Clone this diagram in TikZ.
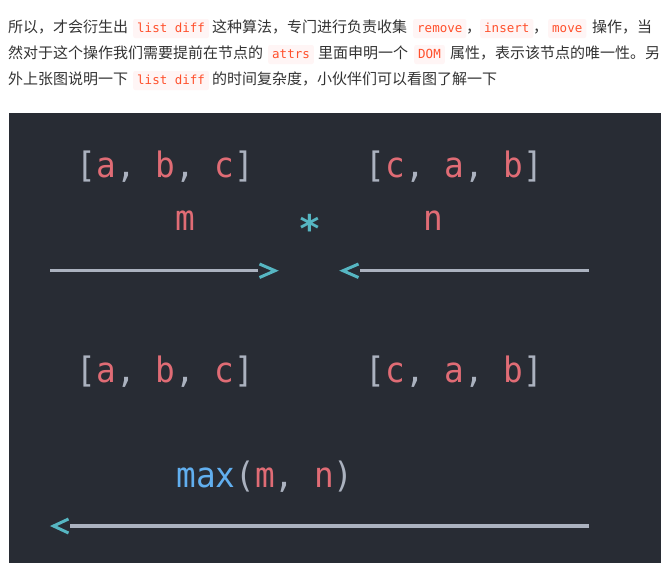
\documentclass[tikz,border=0pt]{standalone}
\usepackage{fontspec}
\setmainfont{Noto Sans CJK SC}
\newfontfamily\codefont{DejaVu Sans Mono}
\newfontfamily\panelfont[FakeStretch=0.935]{DejaVu Sans Mono}
\definecolor{txtgray}{HTML}{333333}
\definecolor{codefg}{HTML}{FF502C}
\definecolor{codebg}{HTML}{FFF5F5}
\definecolor{panel}{HTML}{282C34}
\definecolor{pgray}{HTML}{ABB2BF}
\definecolor{pred}{HTML}{E06C75}
\definecolor{pcyan}{HTML}{56B6C2}
\definecolor{pblue}{HTML}{61AFEF}
\newcommand{\G}[1]{\textcolor{pgray}{#1}}
\newcommand{\R}[1]{\textcolor{pred}{#1}}
\tikzset{
  cn/.style={anchor=base west, inner sep=0pt, text=txtgray, font=\fontsize{15}{15}\selectfont},
  codespan/.style={anchor=base west, fill=codebg, text=codefg, font=\codefont\fontsize{12.5}{12.5}\selectfont, inner xsep=4pt, inner ysep=3pt, text height=10pt, text depth=3pt, rounded corners=2pt},
  big/.style={anchor=base, inner sep=0pt, font=\panelfont\fontsize{35}{35}\selectfont},
  rule/.style={draw=pgray, line width=3.4pt},
  chev/.style={draw=pcyan, line width=3pt},
}
\begin{document}
\begin{tikzpicture}[x=1pt,y=-1pt]
\useasboundingbox (0,0) rectangle (672,582);
\fill[white] (0,0) rectangle (672,582);
% paragraph
\node[cn] (l1a) at (8,32) {所以，才会衍生出};
\node[codespan] (l1b) at (133,32) {list diff};
\node[cn] (l1c) at (212,32) {这种算法，专门进行负责收集};
\node[codespan] (l1d) at (413,32) {remove};
\node[cn] (l1e) at (466,32) {，};
\node[codespan] (l1f) at (480,32) {insert};
\node[cn] (l1g) at (533,32) {，};
\node[codespan] (l1h) at (548,32) {move};
\node[cn] (l1i) at (592,32) {操作，当};
\node[cn] (l2a) at (8,58) {然对于这个操作我们需要提前在节点的};
\node[codespan] (l2b) at (268,58) {attrs};
\node[cn] (l2c) at (318,58) {里面申明一个};
\node[codespan] (l2d) at (414,58) {DOM};
\node[cn] (l2e) at (450,58) {属性，表示该节点的唯一性。另};
\node[cn] (l3a) at (8,84) {外上张图说明一下};
\node[codespan] (l3b) at (133,84) {list diff};
\node[cn] (l3c) at (212,84) {的时间复杂度，小伙伴们可以看图了解一下};
% panel
\fill[panel] (9,113) rectangle (661,563);
\node[big] (old1) at (165.5,177.5) {\G{[}\R{a}\G{,} \R{b}\G{,} \R{c}\G{]}};
\node[big] (new1) at (454.5,177.5) {\G{[}\R{c}\G{,} \R{a}\G{,} \R{b}\G{]}};
\node[big, text=pred] (m) at (185.5,230) {m};
\node[big, text=pcyan, font=\codefont\bfseries\fontsize{38}{38}\selectfont] (star) at (309.5,242) {*};
\node[big, text=pred] (n) at (433.5,230) {n};
\node[big] (old2) at (165.5,382) {\G{[}\R{a}\G{,} \R{b}\G{,} \R{c}\G{]}};
\node[big] (new2) at (454.5,382) {\G{[}\R{c}\G{,} \R{a}\G{,} \R{b}\G{]}};
\node[big] (mx) at (265,487) {\textcolor{pblue}{max}\G{(}\R{m}\G{,} \R{n}\G{)}};
% arrows
\coordinate (a1s) at (50,270.7);
\coordinate (a1e) at (258,270.7);
\coordinate (a2s) at (589,270.7);
\coordinate (a2e) at (360,270.7);
\coordinate (a3s) at (589,526);
\coordinate (a3e) at (70,526);
\draw[rule] (a1s) -- (a1e);
\draw[rule] (a2s) -- (a2e);
\draw[rule] (a3s) -- (a3e);
\draw[chev] (259.5,264) -- (275,270.7) -- (259.5,277.5);
\draw[chev] (358.5,264) -- (343,270.7) -- (358.5,277.5);
\draw[chev] (68.5,519) -- (53.5,526) -- (68.5,533);
\end{tikzpicture}
\end{document}
